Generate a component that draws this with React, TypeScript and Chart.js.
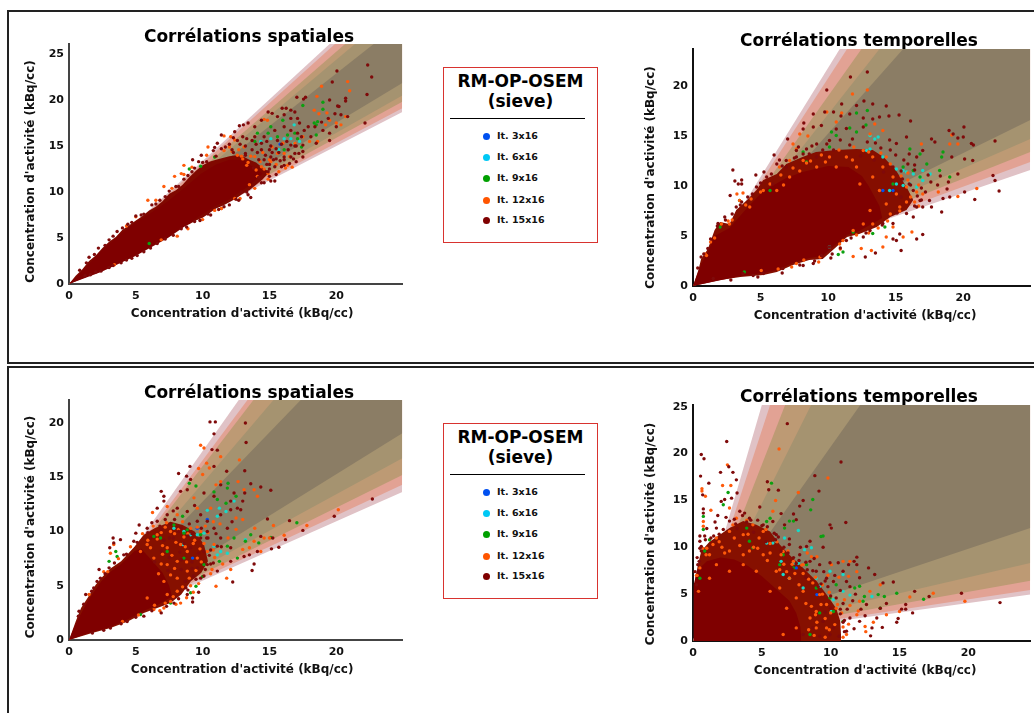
import React, { useEffect, useRef } from "react";
import { Chart, registerables } from "chart.js";

Chart.register(...registerables);

const titleSpatial = "Corrélations spatiales";
const titleTemporal = "Corrélations temporelles";
const axisTitle = "Concentration d'activité (kBq/cc)";
const legendTitle = ["RM-OP-OSEM", "(sieve)"];
const seriesNames = ["It. 3x16", "It. 6x16", "It. 9x16", "It. 12x16", "It. 15x16"];
const seriesColors = ["#0050f0", "#00c8f5", "#00a000", "#ff5500", "#7f0000"];
const pointColors = ["#0050f0", "#18d8c8", "#0ca010", "#ff5a0a", "#7f0a0a"];
const bandColors = ["#e0c2c6", "#e2a294", "#bd9a74", "#a59370", "#8b7d65"];
const coreColor = "#7f0000";

// flat lists: x, y, x, y ...
const p1Dark = [22.35,23.8,22.65,22.5,20.05,23.15,19.7,21.96,22.3,20.6,22.15,17.5,17.7,20.3,17.05,20.3,17.55,20.1,19.5,20,20.7,20.2,20.7,19.9,20.1,19.35,20.85,18.2,14.9,18.7,15.2,18.55,16.25,19.1,15.95,19.1,16.6,18.9,16.9,18.7,17.1,18,17.25,17.5,16.6,18,16.1,18.4,15.6,18.2,14.4,17.8,13.9,17.1,13.4,17.5,12.75,17.2,13.05,17.3,12.4,16.55,11.4,16.2,10.9,14.85,11.1,15.3,9.9,14,9.25,13.5,19.9,18.5,20.35,18.4,20.2,19.3,19.4,18,18.9,17.6,20,17.1,19.5,15.6,19.5,16.4,19,16.7,18.5,15.3,17.5,13.8,17,13.3,16.6,13.8,15.4,11.2,15.1,11.2,13.6,9.4,13.4,9.7,12.9,10,18.1,16,17.9,17.1,17.4,16,17.5,15.1,16.9,14.2,16.1,13.8,15.9,12.75,15.4,12.75,14.9,12.2,14.6,13.5,14.4,14.6,13.9,16,14.6,16,15.4,16.7,16.1,17.1,16.6,16.7,17.1,16.4,17.6,16.7,18.4,17.1,1.5,2.9,2.2,3.9,3,4.8,3.6,5.7,4.4,6.5,5,7.4,5.6,7.6,6.2,8.6,6.8,9.1,7.5,10.1,8,10.6,8.6,11.4,9.2,12.2,9.7,13.3,10.3,13.3,10.8,14.5,11.4,14.7,1.2,0.9,2,1.3,3,1.8,3.9,2.3,4.7,2.8,5.6,3.5,6.6,4.4,7.8,5.3,8.8,6.2,9.8,6.9,10.4,7.6,11.2,8.1,12,8.6,12.7,9.1,14.6,11,14.2,11.6,13.8,12.6,14.8,13,15.1,13.8,15.5,14.7,15.9,15.2,16.4,14.6,17,15,13.2,14.2,12.8,15.2,12,15.2,11.7,14.9,15,13,15.3,13.5,15.8,13.4,16.1,12.9,16.5,13.1,14.7,14,14.1,14.3,13.7,14.6,13.2,15,12.6,15.6,16.9,15,16.3,15.5,15.6,15.6,15.1,15,14.8,15.5,13.3,15.8,17.5,14.4,16.6,15.1,15.2,14.3,14,15.2,12.2,14.6,0.8,1.5,1.3,2.3,1.9,3.2,2.7,4.2,3.3,5.2,4,6.1,4.7,6.7,5.4,7.5,6.5,8.7,7.2,9.5,8.2,10.6,8.9,11.8,9.4,12.6,10,13.2,11,13.9,12.3,14.3,13.2,14,14.2,13.5,15,12.5,15.5,11.9,15,11.7,14.4,11,13.3,10,12.5,9.2,11.6,8.4,10.6,7.5,9.4,6.8,8.4,6,7.2,4.9,6.1,3.9,5.1,3.1,4.3,2.6,3.3,2,2.4,1.4,1.6,1,15.7,14.3,16.1,13.5,16.8,13.6,17.2,14.2,15,14.6,13.7,15.6,15.5,13.6,14.4,15.3,13,16,12.3,15.9];
const p1Orange = [20.85,22,21,21,18.9,21.5,18.55,20.4,18.35,18.9,18.7,18.5,19.3,18.6,19.5,17.8,20,17.5,20.35,17.3,20.7,18.2,19.2,17.3,16.35,12.9,16.5,13.85,16,15.3,14.85,17.8,14.6,17.9,15.6,14.2,16.1,14.2,15.1,13.3,14.4,12.75,13.9,13.85,13.1,14.9,12.4,15.65,12.1,16,11.6,16.1,10.4,14.9,8.6,12.9,8.4,12,7.9,11.7,5.9,9.1,7.1,10.6,10.9,8,11.4,8.2,12.4,9.3,13.5,10.8,14.1,11.7,14.9,12,16.9,15.3,17.5,16,18,15.5,18.6,15.5,6.9,4.8,3.4,2.1,12.6,14,13.4,13.2,14,12.4,14.5,14.3,15.2,14.9,12.2,14.4,13,13.6,12.9,13.9,13.6,13.9,14.3,13.3,15,13.5,15.5,13,15.7,12.2,16.2,12.6,16.7,12.7,13.3,12.9,14.9,11.4,14.6,12.5,12,14.9,12.7,14.6,11.6,14.5,10.3,14,9.2,12.7,8.6,11.9,7.7,10.4,6.5,9.1,5,7.3,4.3,6.3,8.1,5.2,8.9,6,10,7,11.4,8.2,12.8,9.3,13.9,10.4];
const p1Green = [17.5,19.4,19,19,19,19.75,18.35,17.5,18.6,17.65,18.5,17.3,16.9,16.4,16.35,16.2,17.1,15.8,15.1,17.1,14.9,16.4,14.1,16.4,15.6,16,13.9,15.5,17.4,14.9,16.1,14.6,18.5,16.2,9.85,12.8,9,12.5,16,17.8,6,4.4,10.9,13.8];
const p1Cyan = [16.85,17.3,16.6,15.8,16.85,15.3,16.1,15.8,15.7,14.6,14.35,15.5,15.1,15.8,17.25,15.5];
const p1Blue = [15.8,15.2];
const p1HaloUpper = [0,0,0.5,0.9,1,1.6,1.5,2.5,2,3.1,2.5,3.9,3,4.6,3.5,5.1,4,5.9,4.5,6.4,5,6.9,5.5,7.4,6,8,6.5,8.4,7,9,7.5,9.8,8,10.2,8.5,10.8,9,11.6,9.5,12.3,10,12.9,10.5,13.3,11,13.5,11.5,13.7,12,13.9,12.5,14,13,13.9,13.5,13.5,14,13.2,14.5,12.6,15,12.2];
const p1HaloLower = [0,0,1,0.6,1.5,0.9,2,1.2,2.5,1.6,3,1.9,3.5,2.2,4,2.5,4.5,2.8,5,3.2,5.5,3.6,6,4,6.5,4.4,7,4.8,7.5,5.2,8,5.7,8.5,6.2,9,6.5,9.5,6.9,10,7.2,10.5,7.7,11,8.2,11.5,8.5,12,8.9,12.5,9.3,13,9.8,13.5,10.2,14,10.8,14.5,11.4,15,12.2];
const p1CoreUpper = [0,0,1,1.4,2.4,3.6,4,5.6,5,6.7,6,7.6,7.4,9,8.5,10.3,9.9,12,11,13,12,13.5,13,13.5,14,12.5,14.5,12];
const p1CoreLower = [0,0,2.4,1.3,4.9,3,7.4,5,9.9,7.5,11,8.5,12,9.2,13.4,10.6,14.5,12];
const p1BandTopX = [22.8,21.4,20.66,19.9,19.5];
const p1BandRightY = [21.85,20.5,19.8,19.1,18.7];

const p2Dark = [12.9,21.4,11.65,20.9,9.9,19.6,12.1,18.05,12.65,18.5,13.3,18.2,11,18.2,14.3,18,10.4,17.4,9.75,17.4,8.9,17.2,10.95,17,11.6,17.2,12.6,16.8,13.3,16.7,13.8,16.9,14.5,17,15.25,17.1,16.1,16.5,8.2,16.3,8.9,15.9,9.5,16.05,8.15,15.7,7,14.7,6,13.1,6.4,12.6,6.2,12.2,5.25,11.4,4.65,11.1,2.95,11.6,3.1,10.5,3.35,10.2,3.6,10.6,2.75,9.05,3.6,10.2,22.35,14.5,20.05,15.9,18.95,15.55,19.25,15.2,20,14.9,19.6,14.8,20.6,14.25,20.75,14.1,17.65,14.7,17.9,14.4,20.1,12.7,20.7,12.55,22.2,11.05,22.35,10.55,22.65,9.5,20.85,8.65,18.4,7.4,16.3,6.9,17,5.15,16.55,4.7,15.4,3.55,15.05,4.55,14.8,4.7,15.3,5.2,12.75,2.9,13.5,3.3,10.2,2.8,8.9,2.25,17,7.9,17.5,8.55,17.65,7.9,18.5,8.75,19,8.9,20.1,9.4,19.6,11.2,19.15,12.9,17,13.55,16.55,12.9,15.05,14.25,14.55,14.6,15.8,14.9,12.6,15.9,11.35,15.75,10.6,15.7,10.1,14.55,9.15,14.2,8.4,13.7,7.65,12.9,6.9,12.55,1.5,0.75,3.7,1.25,4.45,1.05,5.2,1.25,6.65,1.75,8.15,2.05,9.5,3.05,10.1,3.9,11.35,4.55,12.6,4.9,13.1,5.55,14.05,6.25,14.8,6.25,15.8,7.25,16.55,7.9,16.8,8.55,16.3,9.55,0.6,2.9,1.1,3.75,1.85,6.25,2.35,6.9,3.2,7.9,3.6,8.4,4.05,8.9,4.7,9.9,5.45,10.9,5.9,10.2,6.9,11.9,7.65,13.55,8.15,13.2,9.15,12.9,13.4,12.6,14.1,11.4,14.8,11.9,15.5,10.7,16.1,10.1,13.5,14.3,11.6,14.1,10.4,13.6,12.4,13,15.4,8.9,17.6,10.4,18.3,11,18.9,10.4,16.4,12.1,14.6,13.6,13.9,13.8,12.9,14.4,11.8,14.7,10.9,14.6,9.9,14.2,15.6,12.6,16.4,11.6,16.9,9.8,17.2,9.4,16.9,8.6,15.9,12.2,17.4,11.1,18.1,10.1,18.8,9.7,16,13.2,15,13.1,8.8,14,7.8,13.9,0.35,1.8,0.8,3.2,1.3,4.7,1.8,6,2.4,6.6,2.9,7.2,3.5,8.1,4.4,9.2,5,10.3,5.8,11.2,6.6,12,7.5,12.8,8.6,13.2,9.6,13.6,15.4,11.5,16,10.2,16.6,9,16.4,8,15.1,7.3,14,6.1,12.8,5.3,11.7,4.8,10.9,3.8,10.3,3.2,9,2.5,7.9,2.1,6.6,1.3,4.8,0.9,2.8,0.6];
const p2Orange = [12.9,19.6,11.8,19.2,9.9,17.4,11,17.3,10.6,16.4,13.45,16.2,13.1,15.2,14.05,15.55,8.5,15,7.9,15.2,7.4,14.2,7.65,13.7,7.15,12.55,6.4,11.9,5.7,10.2,3.7,9.3,3.25,9.2,3.45,8.55,2.7,6.2,2.1,6.2,1,3.05,19.15,15.1,19.6,14.2,19,14.2,16.9,14.2,21,9.75,19.6,8.95,18.15,9.4,17,9.2,16.55,9.4,15.8,8.4,15.3,7.9,16.2,5.4,15.55,4.9,14.8,5.9,14.3,4.9,14.05,3.9,13.2,3.55,11.85,2.95,12.45,3.75,11.1,4.55,9.4,2.9,7.65,2.25,5.05,1.55,11.35,12.9,10.1,12.9,9.15,11.9,12.6,13.55,13.3,12.9,14.3,12.9,14.8,10.9,14.05,11.9,15.05,9.2,14.3,8.2,13.1,7.55,8.15,12.55,10.6,11.9,12.1,11.9,13.3,10.9,12.35,10.2,13.8,9.55,15.8,9.9,13.3,6.2,12.6,6.2,11.85,5.55,10.85,4.2,7.15,10.9,6.2,9.55,5.2,9.55,4.2,7.9,6.5,11.1,7.4,11.8,8.4,12.3,9.5,13.1,10.8,13.6,11.9,13.9,13,13.4,13.9,13.3,14.6,12.2,15.4,11,15.9,10.6,16.1,8.9,16.4,8.4,15.3,7.5,14.6,7.2,14.4,6.5,13.7,5.8,11.8,12.6,9.8,12.4,8.7,12.5,7.9,11.5,6.7,10.1,5,9.4,3.9,8.1,2.6,6.5,1.6,4.8,0.9,3.2,6.3,1.7,8.2,2.6,10.9,3.7,12.1,5.1,15.9,11.3,16.7,10.1,16.7,8,13,5.3,9.3,2.4,7.3,1.9,4.3,8.7,2.9,6.6,1.3,4.4];
const p2Green = [12.1,17.3,12.9,17.55,12.8,16.1,11.6,15.8,10.25,15.4,10.6,15.05,12.1,15.4,8.15,13.4,8.4,12.4,10.1,13.9,16.05,13.7,16.8,13.2,17.3,12.2,18.5,13.4,18.4,12.9,18.25,11.55,19,10.9,15.55,11.9,14.8,10.2,16.3,11.55,16.8,10.9,14.2,5.9,13.3,5.25,10.75,3.15,11.1,3.4,11.85,5.4,3.8,1.4,3.45,8.55,2,5.9,5.7,9.55];
const p2Cyan = [13.1,15.05,13.45,14.7,13.7,14.9,13.1,13.7,14.05,12.9,15.05,11.7,15.55,11.55,15.8,11.4,16.3,11.2,16.8,10.9,17,10.55,17.55,11.2,16.05,10.2,15.05,10.2,15.55,10.05,10.1,3.9,12.85,13.55,14.55,9.55,16.55,9.9,17,11.55];
const p2Blue = [14.8,9.55,14.05,9.55];
const p2HaloUpper = [0,0,0.4,1.6,0.6,2.7,1.1,3.7,1.6,5.6,2,6.4,2.7,6.2,3.2,7.6,4,8.6,4.7,9.6,5.2,10.6,6.2,11.2,6.9,12.2,8.1,12.9,9.1,13.4,10.6,13.6,12.1,13.7,13.3,13.6,14.1,12.9,15,11.6,15.8,9.9,16.3,8.6];
const p2HaloLower = [0,0,2,0.6,3.5,0.9,5.2,1.1,6.2,1.4,7.4,2.1,8.6,2.6,9.6,2.7,10.6,3.9,11.4,4.9,12.3,5.2,13.6,5.9,14.6,6.9,15.8,7.6,16.3,8.6];
const p2CoreUpper = [0,0,0.6,2.2,1.1,3.4,1.6,5,2.7,5.8,4,7.8,5.2,9.5,6.9,10.8,8.1,11.4,10,12,11.5,11.9,12.5,11,13,10,13.8,8,14,6.8];
const p2CoreLower = [0,0,3.5,1,5.2,1.3,6.2,1.6,7.4,2.3,8.6,2.8,9.6,3,10.6,4.2,11.4,5.1,12.3,5.5,14,6.8];
const p2BandTopX = [15.55,13.8,12.47,11.4,10.86];
const p2BandRightY = [16.6,14.7,13.4,12.4,11.6];

const p3Dark = [22.7,13,19.85,11.4,17.5,10.1,16.5,11,14.85,11.15,15.1,13.8,14.35,14.1,13.6,14.4,13.2,20,10.55,20.1,10.95,20.1,10.85,19,13.25,18.2,10.7,17.55,11.1,17.5,13.15,15.6,11.8,15.55,10.85,16,9.05,16,8.2,15.35,8.8,15.1,9.1,14.8,6.9,13.7,7.1,13.25,7.1,12.8,6.6,12.15,8.35,13.7,8.85,13.85,10.1,13.55,11.35,14.3,10.85,13.25,12.35,13.55,13.15,13.55,13,12.8,12.1,12.8,12.6,12.15,12.85,12,5.25,10.6,5,9.85,3.3,9.4,3.85,9.25,3.35,8.95,3.05,8.5,2.25,6.5,12.1,12,11.35,11.55,10.35,10.95,9.85,11.55,11.85,10.3,12.2,10.9,11.35,9.4,10.85,10.3,10.35,10,11.1,8.65,12.1,8.5,16.2,9.25,15.7,8.55,15.15,8.4,15.25,9.4,14.35,9.55,13.1,7.7,13.85,7,13.7,6.4,12.25,5.35,9.25,3.5,9.25,3.87,8.85,4.2,8.75,4.8,9.85,5.7,11.1,6.35,12.1,7.25,14.1,8.15,13.5,7.85,10.35,6.95,9.6,6.65,7.85,3.4,6.9,2.5,5.6,2.2,4.35,1.7,3.1,1.1,1.75,0.65,0.75,2.65,1.25,4.2,1.85,4.8,2.35,5.7,3,6.65,4.1,7.85,4.85,9.1,5.85,10.3,6.6,10.95,7.35,11.55,8.1,12.15,8.85,11.85,9.6,10.95,9.85,9.4,9.1,8.5,10.1,8.15,6.9,10.2,7.6,10.7,8.4,10.3,8.9,9.6,7.8,9.4,7.1,9.2,8.3,8.1,9.2,7.2,8.4,6.5,9.3,5.9,8.7,5.4,6.2,10.8,7.2,11.1,7.8,11.9,9.4,12.4,6.1,9.4,7.5,9.4,8.6,8.9,9.7,8,9.2,6.6,7.4,6.4,8.4,7.4,6.9,8.2,8.2,10,6.4,7.2,10.4,9.4,11,9.8,10.5,7.8,11.4,8.6,10.8,7.1,10.1,5.9,9.7,4.4,9.2,9.8,7.5,7.6,0.7,2.2,1.1,3.3,1.7,4.5,2.1,5.4,2.7,6.1,3.4,7.1,4.3,7.9,5.1,9,5.9,9.9,6.8,10.5,7.9,11.1,9,10.7,9.9,10.3,10.3,9.4,10.6,8.3,10.6,7,10.2,6.5,9.5,5.6,8.9,4.6,8.2,3.8,7.3,3.1,6.2,2.7,5,2.1,3.9,1.5,2.6,0.9];
const p3Orange = [9.85,17.95,10.1,17.7,11.35,16.9,12.75,16.6,10.3,16.3,9.7,15.8,10.5,15.85,10,15.25,12.65,14.6,11.35,14.6,11,14.3,13.85,13.85,14.1,13.25,13.1,13.85,12.5,11.25,13,11.1,20.15,12,17.8,10.55,15.3,10.55,16.1,9.65,13.9,10.3,14.6,9.4,15,9.4,13.85,9.1,14.35,8.15,13.5,8.5,13,8.35,12.1,6.5,11.8,5.7,11,4.95,8.35,3.4,7.1,2.95,6.35,2.8,7.6,3.55,3.1,8,3.35,8.8,2.6,6.3,6.25,11.75,7.35,12.3,9.35,13.1,9.6,12.15,10.6,12.15,8.1,11.55,5.85,8.8,6.6,9.7,7.6,10,7.35,8.5,8.35,8.8,8.85,8.15,8.1,7.25,9.6,7.55,7.35,6.95,8.1,5.7,7.1,5.4,7.35,4.2,8.1,4.5,5.85,3.87,8.85,6.35,10.35,8.15,9.85,10,10.85,8.8,9.1,10.3,5.35,8.15,6.35,7.55,6.9,9.9,7.9,9.8,8.6,9.5,7,7.9,7.9,6.6,5.9,9.2,6.6,9.3,7.2,10.4,8.2,10.2,8.9,9.8,9.4,9.2,9.8,8.4,9.9,7.2,9.5,6.4,9,5.7,8.5,4.9,7.8,4,7.2,3.4,6.4,3.2,6.9,7,7.7,7.8,8.8,7.2,7.6,6,6.7,6.1,8.7,8.6,9.3,8.9,6.1,8.5,7,8.7,8,9,10.1,8.9,10.9,7.6,10.7,6.5,9.1,5,11.5,7,11.9,9.4,12.5,10.2,11.3,10.7,10.8,10.9,10.2,10.5,1.5,4.2,2.9,6.3,3.7,7.5,4.6,8.6,5.5,9.8,6.3,10.5,7.3,10.8,8.5,10.9,9.6,10.4,10.4,9.9,10.8,8.3,10.6,6.1,9.7,5.2,9.3,4.4,8.8,3.9,8,3.3,6.8,2.7,5.2,2.3,4,1.7];
const p3Green = [17.05,10.8,14.2,8.95,15.1,9.45,9,14.45,9.5,14.2,10.85,13.65,11.9,14.45,11.85,14,11.1,12.95,11.75,12.6,12.5,13.25,8.5,11.4,12.35,9.4,13.6,9.7,13.2,9.1,12.6,7.55,11.85,8.65,11.25,7.25,10,5.85,9.5,4.95,9.1,4.35,7.6,3.4,5.35,2.35,3.5,8.15,3.6,7.7,3,7.25,8.85,10.15,8.6,9.85,9.85,9.7,6.85,9.4,6.35,9.55,7.85,10.6,7.35,8.15,8.6,7.55,10.1,6.95];
const p3Cyan = [10.35,11.95,11.25,12.15,12.35,12.8,11.75,11.85,11.1,11.4,7.85,10.3,8.6,10,9.1,9.7,10.1,9.85,9.6,9.7,8.5,8.8,11.35,8.15,11.85,8,11.1,7.85,10.85,8.65,13.2,9.25];
const p3Blue = [10.35,11.1,9.6,10.3,9.25,7.55];
const p3HaloUpper = [0,0,0.5,1.7,0.9,2.95,1.4,3.9,2,5.1,2.4,5.7,3.1,6.6,3.9,7.25,4.9,8.6,5.6,9.7,6.4,10.3,7.6,10.9,8.5,10.6,9.4,10,10.1,8.8,10.4,7.25];
const p3HaloLower = [0,0,1.6,0.6,3.1,1.1,4.4,1.7,5.6,2.5,6.6,2.95,7.6,3.4,8.4,4.2,9.1,5.4,9.9,6.2,10.4,7.25];
const p3CoreUpper = [0,0,0.5,1.5,1.4,3.6,2.4,5.4,3.1,6.3,3.9,7,4.9,8.2,5.4,8.4,6,7.6,7,6.2,7.5,5,7.7,4];
const p3CoreLower = [0,0,1.6,0.7,3.1,1.2,4.4,1.9,5.6,2.7,6.6,3.2,7.7,4];
const p3BandTopX = [17.34,15.3,13.8,13.35,12.7];
const p3BandRightY = [19.05,16.75,15.2,14.3,13.65];

const p4Dark = [6.85,23.2,2.45,21.3,0.6,19.9,0.8,19.45,10.75,19.1,2,18,0.55,17.6,2.6,18.6,2.9,18,1.15,16.85,3.15,17.2,8.85,17.65,5.4,17,5.5,16.15,6.2,16.1,9.15,16,0.7,15.6,3.2,15.8,2.8,15.25,2.3,15.1,2.05,14.9,8,15,7.75,14.4,4.85,14.3,0.75,14.1,0.75,13.65,3.75,13.65,1.8,13.4,6.4,13.6,7.3,13.55,11.1,12.65,9.95,12.4,10.05,12.05,7.5,12.95,6.65,12.4,5.8,12.75,8.5,10.65,9.45,10,8.25,10.1,0.5,11.2,0.5,10.65,11.9,8.95,11.7,8.5,11.3,8.15,10.55,8.35,9.95,8.35,9.2,8.15,12.75,7.8,13.2,7.1,13.8,6.2,14.55,6.3,11.9,8.15,12.1,6.75,16.1,5.3,19.5,5.1,22.3,4.1,17.15,4.75,15.45,3.9,15.45,3.4,15.95,3,15.15,3.4,14.9,2.4,14.8,2,14.05,4,13.6,3.5,12.6,3.9,13.35,2.45,12.9,0.55,13.75,1.45,13,1.4,12.1,2.1,11.15,1.05,10.2,1.4,11.4,2.45,9.95,0.7,9.2,0.5,10.9,7.45,10.2,6.35,11.15,6.35,10.4,4.6,9.7,6.7,8.95,7.45,8.5,8.5,7.75,9.2,7,10.3,6.05,11.35,5.1,12.4,4.1,13.1,3.4,13.85,2.65,12.8,1.7,12.05,0.85,11.2,0.6,9.6,0.35,8.15,0.25,6,9.45,2.1,8.7,1.4,8,0.7,7.5,8.3,8.2,6.8,9.1,5.8,7.2,7.7,6.4,9.6,5.3,10.6,4.4,11.6,3.2,12,1.9,11.4,10,3.5,10.7,2.9,1.6,12.7,2.4,13.2,3,13,3.9,12.7,4.7,12.9,5.4,12.2,6.2,11.1,7,10.9,7.8,10,8.8,8.8,9.5,7.4,10.3,7,10.7,5.4,11.4,5.8,11.8,5,12.2,3.4,11.2,3.4,9.8,5.8,8.2,8.4,6.9,9.4,1,12,1.3,11,0.6,10.1,0.45,8.5,12.5,2.7,11.7,1.3,10.6,0.5,9.6,3.1,10.9,4,11.6,4.3,0.15,7.4,0.3,8.9,0.5,9.9,0.9,10.8,1.5,11.2,2.2,11.9,3.1,12.5,4.2,12.9,5,12.3,5.9,11.5,6.6,10,7.3,8.9,8.3,7.6,9.3,6.1,10,4.8,10.7,3.4,11,2.2,11,1,10.9,2,7.7,8.6,8.7,7.5,9.6,6.4,6,10.8,3.6,13.4];
const p4Orange = [6.25,20.5,2.5,18.8,2.75,16.6,0.65,16.25,0.65,16,0.9,15.45,2.15,16.6,1.3,13.95,0.75,12.25,0.75,12.75,9.8,17.4,7.65,15.85,5.8,13.85,6,15,2.65,14.2,3.15,13.1,19.75,4.25,17.45,5.1,15.75,4.7,15,3.15,14.05,2.8,13.1,2,11.9,2.8,12.5,1.55,12.55,1,11.15,0.7,10.3,1.75,9.7,1.4,8.95,1.4,13.6,6,12.85,5.3,12.1,4.25,11.4,8.5,10.9,8.5,10.05,8.15,8.6,9,8,8.15,7.3,8.5,6.55,9.55,5.1,11.7,4.35,12.4,3.65,11.35,2.65,11.7,1.45,10.3,0.95,9.2,0.5,7.8,0.4,5.3,5.1,9.2,4.1,9.6,6.05,7.45,7,6.7,8,5.3,9.2,4.95,9.7,3.9,10.4,3.5,8.95,3.15,8.5,2.45,7.5,1.4,6.55,0.7,6.8,3.5,7.5,4.6,5.6,5.3,2.65,9.6,1.7,8.15,3.65,8.15,2.65,7.45,1.2,6.7,4.6,7.45,3.65,9.2,6.3,5.65,1,9.9,1.9,10.6,3,11,4,11.4,4.8,11,5.6,10.4,6.4,9.2,7.2,8.2,8,7.2,8.7,6.2,9.4,5,10,3,9.9,1.2,8.6,3.7,7.7,6,6.8,7.4,5.4,8.6,4.4,10,2.3,9.4,1.2,9.2,0.3,7,8.8,0.6,9.6,0.4,9,2,8.2,4,6.3,7.6,11,4.4,11.4,3.8,10.8,3,12,3.2,11.3,1.8,8.3,9.4,9,9,9.8,7,10.6,6.8,11.3,6.9,11.9,7.4,0.25,7,0.7,9.9,1.7,11,2.9,12.4,3.9,12.9,5.3,11.9,6.1,10.6,6.9,9.6,7.9,8.1,8.9,6.8,9.9,5.2,10.5,3.9,10.9,1.5,10.9,0.4,9.4,6,8.4,6.6,7.4,7.2,6.6,8.2,5.6,9.4,4.7,9.9,3.4,10.2,2.1,10,8.9,2.8,8.4,1.2,9.3,3.9,9.6,2.4];
const p4Green = [5.7,16.85,8.7,15.1,8.55,14,2.55,15.85,2.2,14.55,0.75,13.3,0.75,11.9,9.45,11.2,9.3,11.15,7,12.8,7.3,12.8,6.65,12.05,5.6,13.1,5.35,12.75,3.9,12.05,16.75,4.45,14.8,5.1,13.9,4.75,13.45,4.95,12.45,4.75,12.1,5.85,12.35,4.25,11.75,5.65,13.6,3.5,10.2,3.15,10.9,2.1,9.2,3,6.55,9.2,6.3,8.15,8.25,8.15,7.3,7.8,4.35,9.95,4.1,10.65,1.2,10.8,0.85,9.6,0.5,6.7,8.5,0.7,8.95,5.65,9.95,4.6,10.4,6];
const p4Cyan = [7.65,11.8,6.65,11,6.05,10.65,5.35,10.45,5.8,10.45,8.6,9.95,8.1,9.75,7.3,8.3,7.65,8.3,6.4,8.5,6.55,7.1,7,6.7,8.95,6.7,9.95,7.45,10.9,7.1,10.9,5.3,11.4,4.9,10.2,4.4,13,4.75,10.05,3.15,9.2,5.85,8,5.65];
const p4Blue = [7.5,7.8,9,4.95];
const p4HaloUpper = [0,0,0.07,4.6,0.17,6.7,0.36,8.15,0.6,9.6,1.2,10.6,1.95,11.35,2.65,12.05,3.65,12.8,4.6,12.4,5.6,11.7,6.3,10.3,7,9.2,8,7.8,9,6.35,9.7,4.95,10.4,3.5,10.7,2.1,10.75,0.7];
const p4HaloLower = [0,0,10.75,0];
const p4CoreUpper = [0,0,0.05,6,0.3,7.5,1,8.5,2,8.9,3,8.7,4,8,5,6.9,6,5.6,7,4.3,7.5,3,7.8,1.5,7.85,0.5];
const p4CoreLower = [0,0,7.85,0];
const p4BandTopX = [12.15,8.58,6.69,5.6,5];
const p4BandRightY = [12.06,8.33,6.44,5.44,4.95];

const xTicks = [0, 5, 10, 15, 20];
const yTicksTo20 = [0, 5, 10, 15, 20];
const yTicksTo25 = [0, 5, 10, 15, 20, 25];

const pts = (flat: number[]) => {
  const out: { x: number; y: number }[] = [];
  for (let i = 0; i < flat.length; i += 2) out.push({ x: flat[i], y: flat[i + 1] });
  return out;
};

type Panel = {
  title: string; l: number; r: number; t: number; b: number; titleX: number; titleY: number;
  xMax: number; yMax: number; axis: string; yTicks: number[]; yTitlePad: number; haloColor: string;
  xTitleShift: number; yTitleShift: number;
  dark: number[]; orange: number[]; green: number[]; cyan: number[]; blue: number[];
  haloUpper: number[]; haloLower: number[]; coreUpper: number[]; coreLower: number[]; bandTopX: number[]; bandRightY: number[];
};

const panels: Panel[] = [
  { title: titleSpatial, l: 69, r: 402, t: 44, b: 284, titleX: 249, titleY: 37.5, xMax: 24.94, yMax: 26.09, axis: "#444", yTicks: yTicksTo25, yTitlePad: 7, haloColor: "#800800", xTitleShift: 6.5, yTitleShift: 7.5,
    dark: p1Dark, orange: p1Orange, green: p1Green, cyan: p1Cyan, blue: p1Blue, haloUpper: p1HaloUpper, haloLower: p1HaloLower, coreUpper: p1CoreUpper, coreLower: p1CoreLower, bandTopX: p1BandTopX, bandRightY: p1BandRightY },
  { title: titleTemporal, l: 693, r: 1030, t: 49, b: 286, titleX: 859, titleY: 41.5, xMax: 24.96, yMax: 23.7, axis: "#111", yTicks: yTicksTo20, yTitlePad: 3, haloColor: "#850e00", xTitleShift: 3.5, yTitleShift: 10,
    dark: p2Dark, orange: p2Orange, green: p2Green, cyan: p2Cyan, blue: p2Blue, haloUpper: p2HaloUpper, haloLower: p2HaloLower, coreUpper: p2CoreUpper, coreLower: p2CoreLower, bandTopX: p2BandTopX, bandRightY: p2BandRightY },
  { title: titleSpatial, l: 69, r: 402, t: 400, b: 640, titleX: 249, titleY: 393.5, xMax: 24.94, yMax: 22.12, axis: "#444", yTicks: yTicksTo20, yTitlePad: 7, haloColor: "#861000", xTitleShift: 6.5, yTitleShift: 7,
    dark: p3Dark, orange: p3Orange, green: p3Green, cyan: p3Cyan, blue: p3Blue, haloUpper: p3HaloUpper, haloLower: p3HaloLower, coreUpper: p3CoreUpper, coreLower: p3CoreLower, bandTopX: p3BandTopX, bandRightY: p3BandRightY },
  { title: titleTemporal, l: 693, r: 1030, t: 405, b: 641, titleX: 859, titleY: 397.5, xMax: 24.5, yMax: 25.19, axis: "#111", yTicks: yTicksTo25, yTitlePad: 3, haloColor: "#861000", xTitleShift: 3.5, yTitleShift: 11,
    dark: p4Dark, orange: p4Orange, green: p4Green, cyan: p4Cyan, blue: p4Blue, haloUpper: p4HaloUpper, haloLower: p4HaloLower, coreUpper: p4CoreUpper, coreLower: p4CoreLower, bandTopX: p4BandTopX, bandRightY: p4BandRightY },
];

const FONT = "'DejaVu Sans'";
const Y_W = 52;
const X_H = 37;
const TITLE_H = 17;
const RIGHT_PAD = 2;

// moves only the axis title of a scale, leaving its ticks where they are
const shiftTitle = (s: any, dx: number, dy: number) => {
  if (s.__shifted) return;
  s.__shifted = true;
  const draw = s.drawTitle;
  s.drawTitle = function () {
    const { left, right, top, bottom } = this;
    this.left = left + dx; this.right = right + dx; this.top = top + dy; this.bottom = bottom + dy;
    draw.call(this);
    this.left = left; this.right = right; this.top = top; this.bottom = bottom;
  };
};

function ScatterPanel({ p }: { p: Panel }) {
  const ref = useRef<HTMLCanvasElement>(null);
  useEffect(() => {
    const scatter = (flat: number[], color: string, label: string) => ({
      label, data: pts(flat), showLine: false, pointRadius: 1.7, pointHoverRadius: 1.7,
      pointBorderWidth: 0, pointBackgroundColor: color, borderColor: color, fill: false,
    });
    const datasets: any[] = [
      scatter(p.dark, pointColors[4], seriesNames[4]),
      scatter(p.orange, pointColors[3], seriesNames[3]),
      scatter(p.green, pointColors[2], seriesNames[2]),
      scatter(p.cyan, pointColors[1], seriesNames[1]),
      scatter(p.blue, pointColors[0], seriesNames[0]),
    ];
    const area = (upper: any[], lower: any[], color: string, label: string) => {
      const idx = datasets.length;
      datasets.push({ label, data: upper, pointRadius: 0, borderWidth: 0, tension: 0, borderColor: "transparent", fill: { target: idx + 1, above: color, below: color } });
      datasets.push({ label: label + " bas", data: lower, pointRadius: 0, borderWidth: 0, tension: 0, borderColor: "transparent", fill: false });
    };
    area(pts(p.coreUpper), pts(p.coreLower), coreColor, "nuage");
    area(pts(p.haloUpper), pts(p.haloLower), p.haloColor, "halo");
    p.bandTopX.forEach((xc, i) => {
      area(
        [{ x: 0, y: 0 }, { x: xc, y: p.yMax }, { x: p.xMax, y: p.yMax }],
        [{ x: 0, y: 0 }, { x: p.xMax, y: p.bandRightY[i] }],
        bandColors[bandColors.length - 1 - i],
        "bande " + i,
      );
    });
    const tickFont = { family: FONT, size: 11, weight: "bold" as const };
    const titleFont = { family: FONT, size: 12, weight: "bold" as const };
    const placeTitle = {
      id: "placeTitle",
      afterLayout(chart: any) {
        const c = chart.canvas.getBoundingClientRect();
        const b = chart.titleBlock;
        b.left = p.titleX - c.left - 150;
        b.right = p.titleX - c.left + 150;
        b.top = p.titleY - c.top - TITLE_H / 2;
        b.bottom = b.top + TITLE_H;
      },
    };
    const chart = new Chart(ref.current!, {
      type: "line",
      data: { datasets },
      plugins: [placeTitle],
      options: {
        responsive: false, animation: false, devicePixelRatio: 1,
        layout: { padding: 0 },
        plugins: {
          legend: { display: false }, tooltip: { enabled: false },
          title: { display: true, text: p.title, color: "#000", padding: 0, font: { family: FONT, size: 17, weight: "bold", lineHeight: 1 } },
        },
        scales: {
          x: {
            type: "linear", min: 0, max: p.xMax,
            afterBuildTicks: (s: any) => { s.ticks = xTicks.map((value) => ({ value })); },
            afterFit: (s: any) => { s.height = X_H; shiftTitle(s, p.xTitleShift, 0); },
            grid: { display: false, drawTicks: false },
            border: { display: true, color: p.axis, width: 2 },
            ticks: { color: "#111", font: tickFont, padding: 6, maxRotation: 0, autoSkip: false },
            title: { display: true, text: axisTitle, color: "#111", font: titleFont, padding: { top: 0, bottom: 0 } },
          },
          y: {
            type: "linear", min: 0, max: p.yMax,
            afterBuildTicks: (s: any) => { s.ticks = p.yTicks.map((value) => ({ value })); },
            afterFit: (s: any) => { s.width = Y_W; shiftTitle(s, 0, p.yTitleShift); },
            grid: { display: false, drawTicks: false },
            border: { display: true, color: p.axis, width: 2 },
            ticks: { color: "#111", font: tickFont, padding: 5 },
            title: { display: true, text: axisTitle, color: "#111", font: titleFont, padding: { top: p.yTitlePad, bottom: 0 } },
          },
        },
      } as any,
    });
    return () => chart.destroy();
  }, [p]);
  const w = p.r - p.l + Y_W + RIGHT_PAD;
  const h = p.b - p.t + X_H + TITLE_H;
  return (
    <canvas
      ref={ref}
      width={w}
      height={h}
      style={{ position: "absolute", left: p.l - Y_W, top: p.t - TITLE_H, width: w, height: h, display: "block", filter: "blur(0.4px)" }}
    />
  );
}

function LegendBox({ top }: { top: number }) {
  const rows = [68, 89, 110, 132, 152];
  return (
    <div style={{ position: "absolute", left: 443, top, width: 153, height: 174, border: "1.5px solid #d8332f", background: "#fff", fontFamily: FONT, fontWeight: "bold", color: "#000" }}>
      <div style={{ position: "absolute", left: 0, width: 153, top: 4, textAlign: "center", fontSize: 17, lineHeight: "19.5px" }}>
        {legendTitle[0]}<br />{legendTitle[1]}
      </div>
      <div style={{ position: "absolute", left: 6, width: 135, top: 50, height: 1, background: "#000" }} />
      {seriesNames.map((name, i) => (
        <React.Fragment key={name}>
          <div style={{ position: "absolute", left: 39, top: rows[i] - 3.5, width: 7, height: 7, borderRadius: "50%", background: seriesColors[i] }} />
          <div style={{ position: "absolute", left: 53, top: rows[i] - 7, fontSize: 9.5, lineHeight: "14px", color: "#111", whiteSpace: "nowrap" }}>{name}</div>
        </React.Fragment>
      ))}
    </div>
  );
}

const frameLine = { position: "absolute", background: "#222" } as const;

export default function App() {
  return (
    <div style={{ position: "absolute", left: 0, top: 0, width: 1034, height: 713, overflow: "hidden", background: "#fff" }}>
      <div style={{ ...frameLine, left: 7, top: 10, width: 1027, height: 2 }} />
      <div style={{ ...frameLine, left: 7, top: 10, width: 2, height: 354 }} />
      <div style={{ ...frameLine, left: 7, top: 362, width: 1027, height: 2 }} />
      <div style={{ ...frameLine, left: 7, top: 366, width: 1027, height: 2 }} />
      <div style={{ ...frameLine, left: 7, top: 366, width: 2, height: 347 }} />
      {panels.map((p, i) => <ScatterPanel key={i} p={p} />)}
      <LegendBox top={67} />
      <LegendBox top={423} />
    </div>
  );
}
